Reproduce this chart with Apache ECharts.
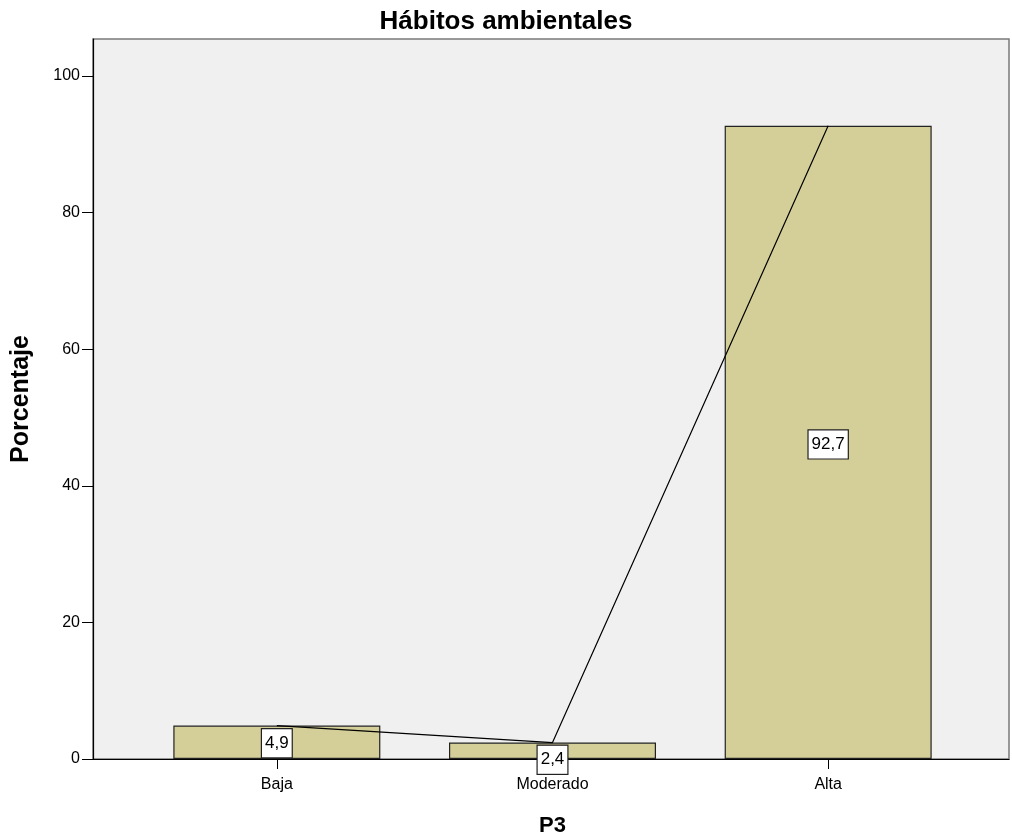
<!DOCTYPE html>
<html>
<head>
<meta charset="utf-8">
<script src="https://cdn.jsdelivr.net/npm/echarts@6/dist/echarts.min.js"></script>
<style>html,body{margin:0;padding:0;background:#fff}#c{width:1012px;height:838px}</style>
</head>
<body>
<div id="c"></div>
<script>
var categories = ['Baja', 'Moderado', 'Alta'];
var percentages = [4.9, 2.4, 92.7];
var yTicks = [0, 20, 40, 60, 80, 100];
var labelOffsets = [[0, 1], [0, 9], [0, 2]];

var FONT = 'Liberation Sans, Arial, sans-serif';
var fmt = function (v) { return String(v).replace('.', ','); };

var chart = echarts.init(document.getElementById('c'), null, {renderer: 'canvas'});
var yMax = 105.4;
chart.setOption({
  animation: false,
  backgroundColor: '#ffffff',
  title: {
    text: 'Hábitos ambientales',
    left: 'center',
    top: 4,
    textStyle: {fontFamily: FONT, fontSize: 26, fontWeight: 'bold', color: '#000'}
  },
  grid: [
    {left: 93, right: 3, top: 39, bottom: 79, containLabel: false, outerBoundsMode: 'none',
      show: true, backgroundColor: '#f0f0f0', borderColor: '#7a7a7a', borderWidth: 1.5},
    {left: 139, right: 46, top: 39, bottom: 79, containLabel: false, outerBoundsMode: 'none'}
  ],
  xAxis: [
    {gridIndex: 0, type: 'value', min: 0, max: 1, axisLine: {show: true, onZero: false, lineStyle: {color: '#000', width: 1.2}},
      axisTick: {show: false}, axisLabel: {show: false}, splitLine: {show: false}},
    {gridIndex: 1, type: 'category', data: categories, boundaryGap: true,
      axisLine: {show: false},
      axisTick: {show: true, alignWithLabel: true, length: 10, lineStyle: {color: '#000'}},
      axisLabel: {fontFamily: FONT, fontSize: 16, color: '#000', margin: 18},
      name: 'P3', nameLocation: 'middle', nameGap: 56,
      nameTextStyle: {fontFamily: FONT, fontSize: 22, fontWeight: 'bold', color: '#000'}}
  ],
  yAxis: [
    {gridIndex: 0, type: 'value', min: 0, max: yMax,
      axisLine: {show: true, lineStyle: {color: '#000', width: 1.2}},
      axisTick: {show: true, length: 11, customValues: yTicks, lineStyle: {color: '#000'}},
      axisLabel: {fontFamily: FONT, fontSize: 16, color: '#000', margin: 13, customValues: yTicks},
      splitLine: {show: false},
      name: 'Porcentaje', nameLocation: 'middle', nameGap: 59, nameRotate: 90,
      nameTextStyle: {fontFamily: FONT, fontSize: 25, fontWeight: 'bold', color: '#000'}},
    {gridIndex: 1, type: 'value', min: 0, max: yMax, show: false, splitLine: {show: false}}
  ],
  series: [
    {
      type: 'bar', xAxisIndex: 1, yAxisIndex: 1, barWidth: 207,
      itemStyle: {color: '#d4cf98', borderColor: '#222', borderWidth: 1.2},
      data: percentages.map(function (v, i) {
        return {value: v, label: {offset: labelOffsets[i]}};
      }),
      label: {
        show: true, position: 'inside',
        formatter: function (p) { return fmt(p.value); },
        fontFamily: FONT, fontSize: 17, color: '#000',
        backgroundColor: '#fff', borderColor: '#222', borderWidth: 1.2,
        padding: [6, 3, 5, 3]
      },
      z: 2
    },
    {
      type: 'line', xAxisIndex: 1, yAxisIndex: 1, data: percentages,
      symbol: 'none', lineStyle: {color: '#000', width: 1.2}, z: 3
    }
  ]
});
</script>
</body>
</html>
